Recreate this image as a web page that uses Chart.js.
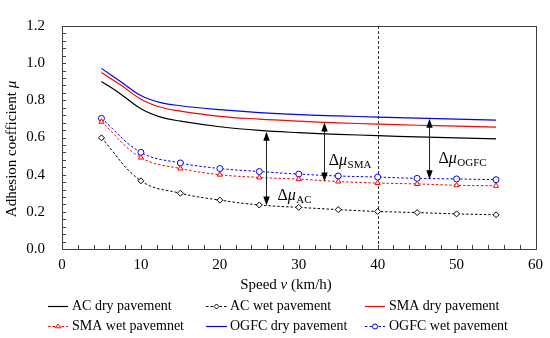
<!DOCTYPE html>
<html><head><meta charset="utf-8">
<script src="https://cdn.jsdelivr.net/npm/chart.js@4/dist/chart.umd.min.js"></script>
<style>html,body{margin:0;padding:0;background:#fff}#wrap{width:550px;height:338px;position:relative}</style>
</head><body><div id="wrap"><canvas id="c" width="550" height="338"></canvas></div>
<script>
// ---- data ----
const drySpeeds = [5, 7.5, 10, 12.5, 15, 20, 25, 30, 35, 40, 45, 50, 55];
const acDry   = [0.902, 0.832, 0.755, 0.710, 0.688, 0.658, 0.638, 0.626, 0.617, 0.610, 0.603, 0.598, 0.593];
const smaDry  = [0.950, 0.881, 0.806, 0.763, 0.742, 0.714, 0.699, 0.688, 0.679, 0.672, 0.666, 0.661, 0.656];
const ogfcDry = [0.972, 0.899, 0.826, 0.788, 0.771, 0.750, 0.734, 0.723, 0.716, 0.710, 0.704, 0.699, 0.694];
const wetSpeeds = [5, 10, 15, 20, 25, 30, 35, 40, 45, 50, 55];
const acWet   = [0.598, 0.367, 0.300, 0.263, 0.237, 0.224, 0.212, 0.202, 0.196, 0.189, 0.184];
const smaWet  = [0.685, 0.492, 0.433, 0.400, 0.385, 0.376, 0.363, 0.355, 0.350, 0.343, 0.340];
const ogfcWet = [0.703, 0.520, 0.463, 0.433, 0.417, 0.403, 0.393, 0.387, 0.380, 0.377, 0.373];
const seriesNames = ['AC dry pavement', 'AC wet pavement', 'SMA dry pavement', 'SMA wet pavemnet', 'OGFC dry pavement', 'OGFC wet pavement'];
const xTicks = [0, 10, 20, 30, 40, 50, 60];
const yTicks = [0.0, 0.2, 0.4, 0.6, 0.8, 1.0, 1.2];
const refLineSpeed = 40;
// difference arrows: speed, from, to
const arrowSpeeds = [25.9, 33.2, 46.5];
const arrowLow  = [0.234, 0.363, 0.376];
const arrowHigh = [0.631, 0.681, 0.701];
// difference labels
const labelSubs   = ['AC', 'SMA', 'OGFC'];
const labelSpeeds = [27.3, 33.8, 47.7];
const labelVals   = [0.263, 0.452, 0.462];

const FONT = '"Liberation Serif","Times New Roman",serif';
const pts = (xs, ys) => xs.map((x, i) => ({x, y: ys[i]}));

function marker(ctx, style, x, y, r, color) {
  ctx.save();
  ctx.strokeStyle = color; ctx.fillStyle = '#fff'; ctx.lineWidth = 1; ctx.setLineDash([]);
  ctx.beginPath();
  if (style === 'circle') ctx.arc(x, y, r, 0, Math.PI * 2);
  else if (style === 'rectRot') { ctx.moveTo(x, y - r); ctx.lineTo(x + r, y); ctx.lineTo(x, y + r); ctx.lineTo(x - r, y); ctx.closePath(); }
  else if (style === 'triangle') { const h = r * 1.5; ctx.moveTo(x, y - h * 0.66); ctx.lineTo(x + r * 1.15, y + h * 0.34); ctx.lineTo(x - r * 1.15, y + h * 0.34); ctx.closePath(); }
  ctx.fill(); ctx.stroke(); ctx.restore();
}

function arrowHead(ctx, x, y, dir) {
  ctx.beginPath(); ctx.moveTo(x, y); ctx.lineTo(x - 3.2, y - dir * 9); ctx.lineTo(x + 3.2, y - dir * 9); ctx.closePath(); ctx.fill();
}

const styles = [
  {color: '#000', dash: [], marker: null},
  {color: '#000', dash: [2.5, 2], marker: 'rectRot'},
  {color: '#ff0000', dash: [], marker: null},
  {color: '#ff0000', dash: [2.5, 2], marker: 'triangle'},
  {color: '#0000ff', dash: [], marker: null},
  {color: '#0000ff', dash: [2.5, 2], marker: 'circle'}
];

const decor = {
  id: 'decor',
  beforeDatasetsDraw(chart) {
    const {ctx, chartArea: a, scales: {x, y}} = chart;
    ctx.save();
    ctx.strokeStyle = '#333'; ctx.lineWidth = 1; ctx.setLineDash([3, 2]);
    const px = Math.round(x.getPixelForValue(refLineSpeed)) + 0.5;
    ctx.beginPath(); ctx.moveTo(px, a.top); ctx.lineTo(px, a.bottom); ctx.stroke();
    ctx.restore();
  },
  afterDatasetsDraw(chart) {
    const {ctx, chartArea: a, scales: {x, y}} = chart;
    ctx.save();
    // frame
    ctx.strokeStyle = '#404040'; ctx.lineWidth = 1; ctx.setLineDash([]);
    ctx.strokeRect(Math.round(a.left) + 0.5, Math.round(a.top) + 0.5, Math.round(a.right - a.left), Math.round(a.bottom - a.top));
    // inward ticks
    ctx.beginPath();
    for (let v = 0; v <= 1.2001; v += 0.04) {
      const py = Math.round(y.getPixelForValue(v)) + 0.5;
      ctx.moveTo(a.left, py); ctx.lineTo(a.left + 4, py);
    }
    for (let v = 0; v <= 60.001; v += 2) {
      const px = Math.round(x.getPixelForValue(v)) + 0.5;
      ctx.moveTo(px, a.bottom); ctx.lineTo(px, a.bottom - 4);
    }
    ctx.stroke();
    // arrows
    ctx.strokeStyle = '#222'; ctx.fillStyle = '#000';
    arrowSpeeds.forEach((s, i) => {
      const px = Math.round(x.getPixelForValue(s)) + 0.5;
      const y1 = y.getPixelForValue(arrowLow[i]), y2 = y.getPixelForValue(arrowHigh[i]);
      ctx.beginPath(); ctx.moveTo(px, y1 - 6); ctx.lineTo(px, y2 + 6); ctx.stroke();
      arrowHead(ctx, px, y1, 1); arrowHead(ctx, px, y2, -1);
    });
    // labels
    ctx.fillStyle = '#000'; ctx.textBaseline = 'alphabetic'; ctx.textAlign = 'left';
    labelSubs.forEach((sub, i) => {
      let px = x.getPixelForValue(labelSpeeds[i]);
      const py = y.getPixelForValue(labelVals[i]);
      ctx.font = '16px ' + FONT; ctx.fillText('Δ', px, py); px += ctx.measureText('Δ').width;
      ctx.font = 'italic 16px ' + FONT; ctx.fillText('μ', px, py); px += ctx.measureText('μ').width + 0.5;
      ctx.font = '11px ' + FONT; ctx.fillText(sub, px, py + 3);
    });
    ctx.restore();
  },
  afterDraw(chart) {
    const {ctx} = chart;
    ctx.save();
    ctx.fillStyle = '#000'; ctx.textBaseline = 'middle';
    // x title
    const p1 = 'Speed ', p2 = 'v', p3 = ' (km/h)';
    ctx.font = '15px ' + FONT; const w1 = ctx.measureText(p1).width, w3 = ctx.measureText(p3).width;
    ctx.font = 'italic 15px ' + FONT; const w2 = ctx.measureText(p2).width;
    let sx = 286 - (w1 + w2 + w3) / 2;
    ctx.textAlign = 'left';
    ctx.font = '15px ' + FONT; ctx.fillText(p1, sx, 285); sx += w1;
    ctx.font = 'italic 15px ' + FONT; ctx.fillText(p2, sx, 285); sx += w2;
    ctx.font = '15px ' + FONT; ctx.fillText(p3, sx, 285);
    // y title
    ctx.save(); ctx.translate(12, 149); ctx.rotate(-Math.PI / 2);
    const q1 = 'Adhesion coefficient ', q2 = 'μ';
    ctx.font = '15px ' + FONT; const v1 = ctx.measureText(q1).width;
    ctx.font = 'italic 15px ' + FONT; const v2 = ctx.measureText(q2).width;
    let sy = -(v1 + v2) / 2;
    ctx.font = '15px ' + FONT; ctx.fillText(q1, sy, 0); sy += v1;
    ctx.font = 'italic 15px ' + FONT; ctx.fillText(q2, sy, 0);
    ctx.restore();
    // legend
    const cols = [[48, 68, 72], [206, 227, 230], [365, 385, 389]];
    const rows = [306, 326];
    seriesNames.forEach((name, i) => {
      const c = cols[i % 3], r = rows[Math.floor(i / 3)], st = styles[i];
      ctx.strokeStyle = st.color; ctx.lineWidth = 1.2; ctx.setLineDash(st.dash);
      ctx.beginPath(); ctx.moveTo(c[0], r + 0.5); ctx.lineTo(c[1], r + 0.5); ctx.stroke();
      ctx.setLineDash([]);
      if (st.marker) marker(ctx, st.marker, (c[0] + c[1]) / 2, r + 0.5, 2.5, st.color);
      ctx.fillStyle = '#000'; ctx.font = '14px ' + FONT; ctx.textAlign = 'left';
      ctx.fillText(name, c[2], r);
    });
    ctx.restore();
  }
};

const ds = (label, data, st, lw) => ({
  label, data, borderColor: st.color, backgroundColor: st.color, borderWidth: lw,
  borderDash: st.dash, tension: 0.4,
  pointRadius: st.marker ? 3 : 0, pointStyle: st.marker || 'circle',
  pointBorderColor: st.color, pointBackgroundColor: '#fff', pointBorderWidth: 1
});

new Chart(document.getElementById('c'), {
  type: 'line',
  data: {
    datasets: [
      ds(seriesNames[0], pts(drySpeeds, acDry), styles[0], 1.2),
      ds(seriesNames[1], pts(wetSpeeds, acWet), styles[1], 1),
      ds(seriesNames[2], pts(drySpeeds, smaDry), styles[2], 1.2),
      ds(seriesNames[3], pts(wetSpeeds, smaWet), styles[3], 1),
      ds(seriesNames[4], pts(drySpeeds, ogfcDry), styles[4], 1.2),
      ds(seriesNames[5], pts(wetSpeeds, ogfcWet), styles[5], 1)
    ]
  },
  options: {
    responsive: false, animation: false, devicePixelRatio: 1,
    layout: {padding: {left: 0, top: 10, right: 12, bottom: 0}},
    plugins: {legend: {display: false}, tooltip: {enabled: false}},
    scales: {
      x: {
        type: 'linear', min: xTicks[0], max: xTicks[xTicks.length - 1],
        afterBuildTicks: s => { s.ticks = xTicks.map(v => ({value: v})); },
        afterFit: s => { s.height = 89; },
        grid: {display: false, drawTicks: false}, border: {display: false},
        ticks: {padding: 7, color: '#000', font: {family: FONT, size: 15}, maxRotation: 0, callback: v => String(v)}
      },
      y: {
        type: 'linear', min: yTicks[0], max: yTicks[yTicks.length - 1],
        afterBuildTicks: s => { s.ticks = yTicks.map(v => ({value: v})); },
        afterFit: s => { s.width = 62; },
        grid: {display: false, drawTicks: false}, border: {display: false},
        ticks: {padding: 17, color: '#000', font: {family: FONT, size: 15}, callback: v => Number(v).toFixed(1)}
      }
    }
  },
  plugins: [decor]
});
</script></body></html>
